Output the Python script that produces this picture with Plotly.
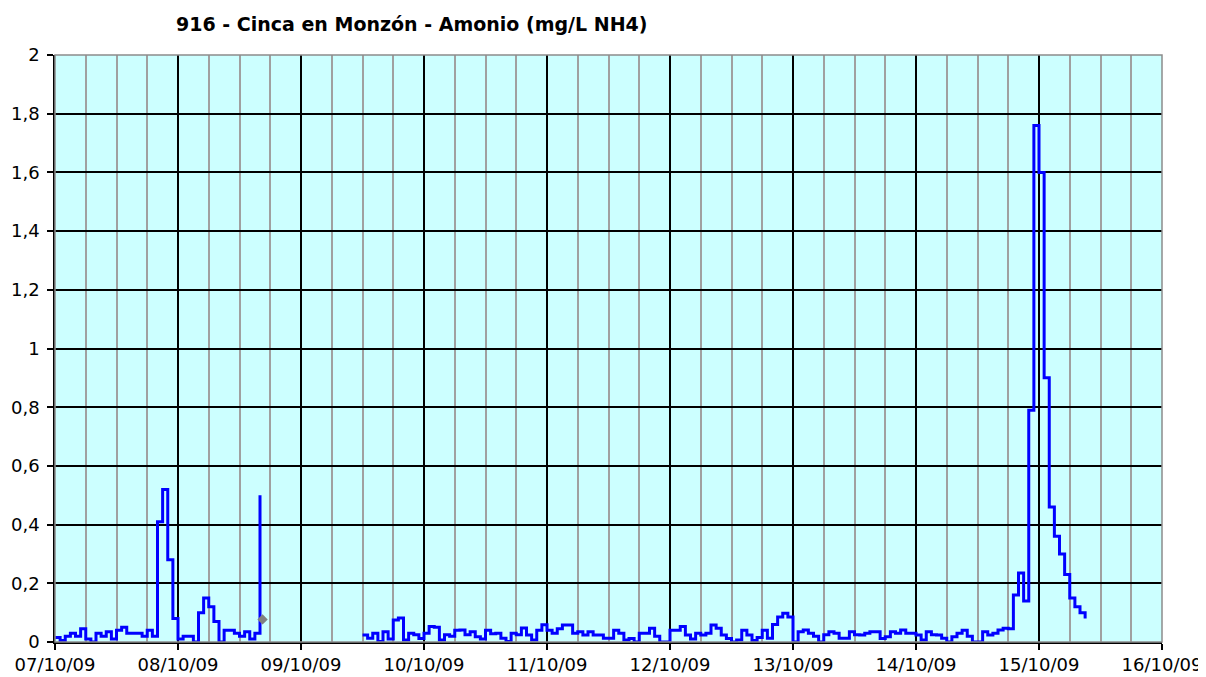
import pandas as pd
import plotly.graph_objects as go

# ---- data (hourly readings, mg/L NH4) ----
seg1_start = "2009-10-07 00:00"
seg1_values = [
    0.015, 0.005, 0.02, 0.03, 0.02, 0.045, 0.01, 0.0, 0.03, 0.02,
    0.035, 0.01, 0.04, 0.05, 0.03, 0.03, 0.03, 0.02, 0.04, 0.02,
    0.41, 0.52, 0.28, 0.08, 0.01, 0.02, 0.02, 0.0, 0.10, 0.15,
    0.12, 0.07, 0.0, 0.04, 0.04, 0.03, 0.02, 0.035, 0.01, 0.03,
    0.50,
]

seg2_start = "2009-10-09 12:00"
seg2_values = [
    0.024, 0.013, 0.03, 0.002, 0.035, 0.01, 0.075, 0.082, 0.007, 0.03,
    0.025, 0.012, 0.03, 0.053, 0.05, 0.007, 0.025, 0.02, 0.04, 0.041,
    0.025, 0.035, 0.018, 0.01, 0.04, 0.028, 0.03, 0.013, 0.002, 0.03,
    0.025, 0.048, 0.024, 0.007, 0.04, 0.059, 0.04, 0.03, 0.045, 0.058,
    0.058, 0.03,
    0.035, 0.024, 0.035, 0.024, 0.024, 0.013, 0.013, 0.04, 0.03, 0.007, 0.012, 0.0,
    0.03, 0.03, 0.047, 0.02, 0.0, 0.0,
    0.04, 0.04, 0.053, 0.024, 0.01, 0.03, 0.024, 0.03, 0.058, 0.047,
    0.024, 0.012, 0.0, 0.007, 0.04, 0.024, 0.005, 0.015, 0.04, 0.013,
    0.06, 0.085, 0.098, 0.085,
    0.0, 0.035, 0.041, 0.03, 0.02, 0.0, 0.025, 0.035, 0.03, 0.013,
    0.013, 0.035, 0.025, 0.024, 0.03, 0.035, 0.035, 0.012, 0.018, 0.035,
    0.03, 0.041, 0.03, 0.03, 0.024, 0.007, 0.035, 0.025, 0.024, 0.013,
    0.0, 0.018, 0.03, 0.04, 0.02, 0.0, 0.0, 0.035, 0.024, 0.03,
    0.041, 0.047, 0.045, 0.16, 0.235, 0.14, 0.79, 1.76, 1.60, 0.90,
    0.46, 0.36, 0.30, 0.23, 0.15, 0.12, 0.10, 0.08,
]

isolated_time = ["2009-10-08 16:30"]
isolated_value = [0.077]

title_text = "916 - Cinca en Monzón - Amonio (mg/L NH4)"
x_start, x_end = "2009-10-07", "2009-10-16"

# ---- build series ----
t1 = pd.date_range(seg1_start, periods=len(seg1_values), freq="h")
t2 = pd.date_range(seg2_start, periods=len(seg2_values), freq="h")
gap_time = t1[-1] + pd.Timedelta(hours=1)
times = list(t1) + [gap_time] + list(t2)
values = seg1_values + [None] + seg2_values

FONT = "DejaVu Sans"

fig = go.Figure()
fig.add_trace(go.Scatter(
    x=times, y=values, mode="lines",
    line=dict(color="#0000FF", width=3, shape="hv"),
    connectgaps=False, showlegend=False, hoverinfo="skip",
))
fig.add_trace(go.Scatter(
    x=pd.to_datetime(isolated_time), y=isolated_value, mode="markers",
    marker=dict(symbol="diamond", color="#808080", size=8),
    showlegend=False, hoverinfo="skip",
))

# plot-area border (gray)
fig.add_shape(type="rect", xref="paper", yref="paper", x0=0, x1=1, y0=0, y1=1,
              line=dict(color="#8C8C8C", width=1.5), layer="above")

# the page body adds an 8px margin, so the figure is sized to fit the window
fig.update_layout(
    width=1198, height=669,
    margin=dict(l=47, r=44, t=47, b=35, autoexpand=False),
    paper_bgcolor="white",
    plot_bgcolor="#CCFFFF",
    separators=",.",
    title=dict(text=title_text, x=0.337, xanchor="center", y=0.976, yanchor="middle",
               font=dict(family=FONT, size=19, color="black", weight="bold")),
    font=dict(family=FONT, size=18, color="black"),
)
fig.update_xaxes(
    type="date", range=[x_start, x_end], automargin=False,
    dtick=86400000, tick0=x_start, tickformat="%d/%m/%y",
    showgrid=True, gridcolor="black", gridwidth=1.5,
    minor=dict(dtick=21600000, tick0=x_start, showgrid=True,
               gridcolor="#A0A0A0", gridwidth=1.5),
    ticks="outside", ticklen=6, tickcolor="black", tickwidth=1.5,
    showline=True, linecolor="black", linewidth=1.5,
    zeroline=False, tickfont=dict(family=FONT, size=18),
)
fig.update_yaxes(
    range=[0, 2], dtick=0.2, tick0=0, automargin=False,
    showgrid=True, gridcolor="black", gridwidth=1.5,
    ticks="outside", ticklen=6, tickcolor="black", tickwidth=1.5,
    showline=True, linecolor="black", linewidth=1.5,
    zeroline=False, tickfont=dict(family=FONT, size=18),
    ticklabelstandoff=4,
)

fig.write_html("out.html")
